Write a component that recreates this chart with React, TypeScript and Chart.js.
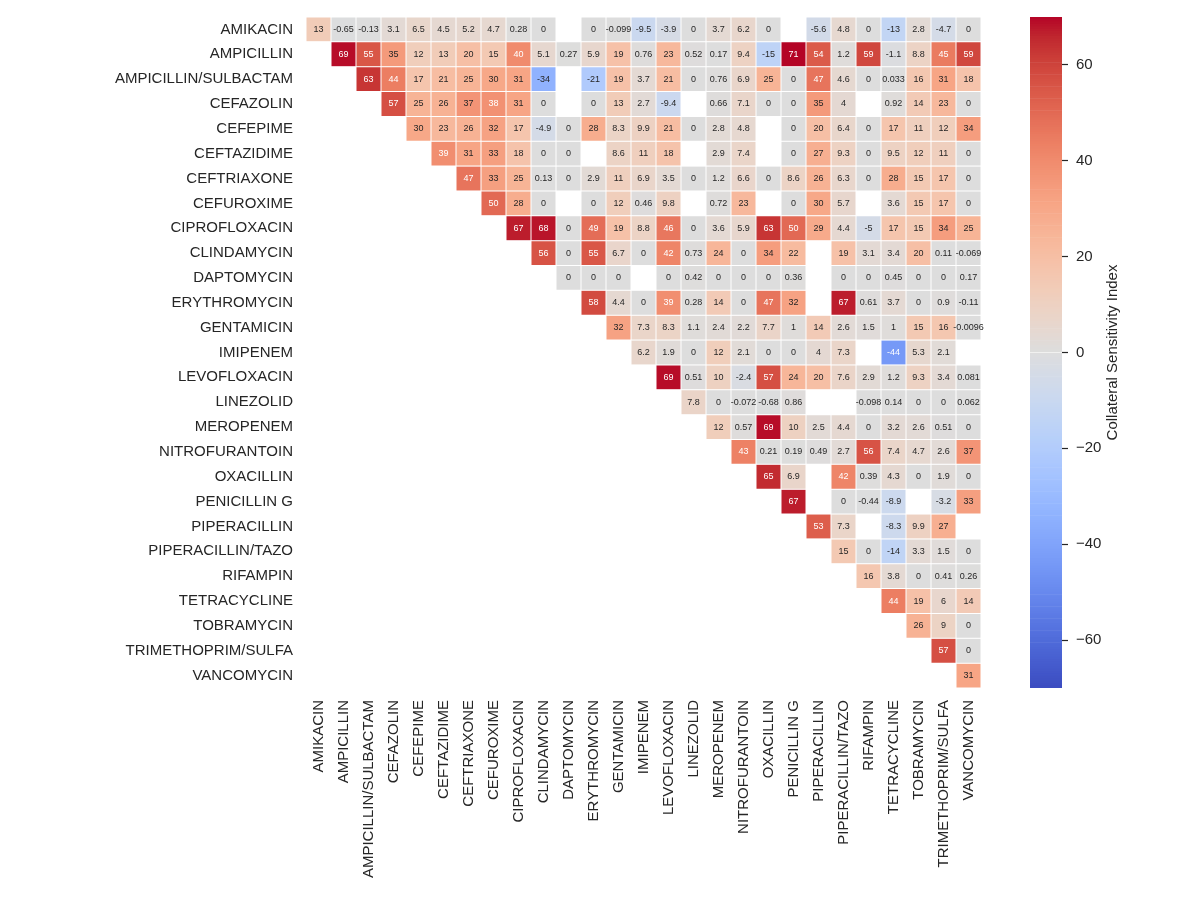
import React, { useEffect, useRef } from "react";
import { Chart, registerables } from "chart.js";

Chart.register(...registerables);

const antibiotics = [
  "AMIKACIN", "AMPICILLIN", "AMPICILLIN/SULBACTAM", "CEFAZOLIN", "CEFEPIME", "CEFTAZIDIME",
  "CEFTRIAXONE", "CEFUROXIME", "CIPROFLOXACIN", "CLINDAMYCIN", "DAPTOMYCIN", "ERYTHROMYCIN",
  "GENTAMICIN", "IMIPENEM", "LEVOFLOXACIN", "LINEZOLID", "MEROPENEM", "NITROFURANTOIN",
  "OXACILLIN", "PENICILLIN G", "PIPERACILLIN", "PIPERACILLIN/TAZO", "RIFAMPIN", "TETRACYCLINE",
  "TOBRAMYCIN", "TRIMETHOPRIM/SULFA", "VANCOMYCIN",
];

// Each row starts at the diagonal (upper triangle); null = masked cell
const rowAmikacin = [13, -0.65, -0.13, 3.1, 6.5, 4.5, 5.2, 4.7, 0.28, 0, null, 0, -0.099, -9.5, -3.9, 0, 3.7, 6.2, 0, null, -5.6, 4.8, 0, -13, 2.8, -4.7, 0];
const rowAmpicillin = [69, 55, 35, 12, 13, 20, 15, 40, 5.1, 0.27, 5.9, 19, 0.76, 23, 0.52, 0.17, 9.4, -15, 71, 54, 1.2, 59, -1.1, 8.8, 45, 59];
const rowAmpSulbactam = [63, 44, 17, 21, 25, 30, 31, -34, null, -21, 19, 3.7, 21, 0, 0.76, 6.9, 25, 0, 47, 4.6, 0, 0.033, 16, 31, 18];
const rowCefazolin = [57, 25, 26, 37, 38, 31, 0, null, 0, 13, 2.7, -9.4, null, 0.66, 7.1, 0, 0, 35, 4, null, 0.92, 14, 23, 0];
const rowCefepime = [30, 23, 26, 32, 17, -4.9, 0, 28, 8.3, 9.9, 21, 0, 2.8, 4.8, null, 0, 20, 6.4, 0, 17, 11, 12, 34];
const rowCeftazidime = [39, 31, 33, 18, 0, 0, null, 8.6, 11, 18, null, 2.9, 7.4, null, 0, 27, 9.3, 0, 9.5, 12, 11, 0];
const rowCeftriaxone = [47, 33, 25, 0.13, 0, 2.9, 11, 6.9, 3.5, 0, 1.2, 6.6, 0, 8.6, 26, 6.3, 0, 28, 15, 17, 0];
const rowCefuroxime = [50, 28, 0, null, 0, 12, 0.46, 9.8, null, 0.72, 23, null, 0, 30, 5.7, null, 3.6, 15, 17, 0];
const rowCiprofloxacin = [67, 68, 0, 49, 19, 8.8, 46, 0, 3.6, 5.9, 63, 50, 29, 4.4, -5, 17, 15, 34, 25];
const rowClindamycin = [56, 0, 55, 6.7, 0, 42, 0.73, 24, 0, 34, 22, null, 19, 3.1, 3.4, 20, 0.11, -0.069];
const rowDaptomycin = [0, 0, 0, null, 0, 0.42, 0, 0, 0, 0.36, null, 0, 0, 0.45, 0, 0, 0.17];
const rowErythromycin = [58, 4.4, 0, 39, 0.28, 14, 0, 47, 32, null, 67, 0.61, 3.7, 0, 0.9, -0.11];
const rowGentamicin = [32, 7.3, 8.3, 1.1, 2.4, 2.2, 7.7, 1, 14, 2.6, 1.5, 1, 15, 16, -0.0096];
const rowImipenem = [6.2, 1.9, 0, 12, 2.1, 0, 0, 4, 7.3, null, -44, 5.3, 2.1, null];
const rowLevofloxacin = [69, 0.51, 10, -2.4, 57, 24, 20, 7.6, 2.9, 1.2, 9.3, 3.4, 0.081];
const rowLinezolid = [7.8, 0, -0.072, -0.68, 0.86, null, null, -0.098, 0.14, 0, 0, 0.062];
const rowMeropenem = [12, 0.57, 69, 10, 2.5, 4.4, 0, 3.2, 2.6, 0.51, 0];
const rowNitrofurantoin = [43, 0.21, 0.19, 0.49, 2.7, 56, 7.4, 4.7, 2.6, 37];
const rowOxacillin = [65, 6.9, null, 42, 0.39, 4.3, 0, 1.9, 0];
const rowPenicillinG = [67, null, 0, -0.44, -8.9, null, -3.2, 33];
const rowPiperacillin = [53, 7.3, null, -8.3, 9.9, 27, null];
const rowPipTazo = [15, 0, -14, 3.3, 1.5, 0];
const rowRifampin = [16, 3.8, 0, 0.41, 0.26];
const rowTetracycline = [44, 19, 6, 14];
const rowTobramycin = [26, 9, 0];
const rowTmpSulfa = [57, 0];
const rowVancomycin = [31];

const rows: (number | null)[][] = [
  rowAmikacin, rowAmpicillin, rowAmpSulbactam, rowCefazolin, rowCefepime, rowCeftazidime,
  rowCeftriaxone, rowCefuroxime, rowCiprofloxacin, rowClindamycin, rowDaptomycin, rowErythromycin,
  rowGentamicin, rowImipenem, rowLevofloxacin, rowLinezolid, rowMeropenem, rowNitrofurantoin,
  rowOxacillin, rowPenicillinG, rowPiperacillin, rowPipTazo, rowRifampin, rowTetracycline,
  rowTobramycin, rowTmpSulfa, rowVancomycin,
];

const colorbarTicks = [-60, -40, -20, 0, 20, 40, 60];
const colorbarTitle = "Collateral Sensitivity Index";
const vmin = -70;
const vmax = 70;

const N = antibiotics.length;
const valueAt = (r: number, c: number): number | null =>
  c >= r ? (rows[r][c - r] ?? null) : null;

// matplotlib coolwarm, 33 control points
const coolwarm = [
  [59, 76, 192], [68, 90, 204], [77, 104, 215], [87, 117, 225], [98, 130, 234], [108, 142, 241],
  [119, 154, 247], [130, 165, 251], [141, 176, 254], [152, 185, 255], [163, 194, 255], [174, 201, 253],
  [184, 208, 249], [194, 213, 244], [204, 217, 238], [213, 219, 230], [221, 221, 221], [229, 216, 209],
  [236, 211, 197], [241, 204, 184], [245, 196, 172], [247, 187, 159], [247, 177, 147], [247, 166, 134],
  [244, 154, 123], [241, 141, 111], [236, 127, 99], [229, 112, 89], [222, 96, 77], [213, 80, 67],
  [203, 62, 56], [192, 40, 47], [180, 4, 38],
];

function rgbFor(v: number): number[] {
  let t = (v - vmin) / (vmax - vmin);
  t = Math.max(0, Math.min(1, t));
  const p = t * (coolwarm.length - 1);
  const i = Math.min(coolwarm.length - 2, Math.floor(p));
  const f = p - i;
  const a = coolwarm[i];
  const b = coolwarm[i + 1];
  return [0, 1, 2].map((k) => Math.round(a[k] + (b[k] - a[k]) * f));
}
const cssFor = (v: number) => {
  const [r, g, b] = rgbFor(v);
  return `rgb(${r},${g},${b})`;
};
function textColorFor(v: number): string {
  const lin = rgbFor(v).map((c) => {
    const s = c / 255;
    return s <= 0.03928 ? s / 12.92 : Math.pow((s + 0.055) / 1.055, 2.4);
  });
  const lum = 0.2126 * lin[0] + 0.7152 * lin[1] + 0.0722 * lin[2];
  return lum > 0.408 ? "#262626" : "#ffffff";
}
const fmt2g = (v: number) => (v === 0 ? "0" : String(Number(v.toPrecision(2))));

const FONT = '"Liberation Sans", Arial, sans-serif';
const INK = "#262626";

const annotPlugin = {
  id: "annot",
  afterDatasetsDraw(chart: any) {
    const ctx = chart.ctx;
    ctx.save();
    ctx.font = `9px ${FONT}`;
    ctx.textAlign = "center";
    ctx.textBaseline = "middle";
    chart.data.datasets.forEach((_ds: any, c: number) => {
      const meta = chart.getDatasetMeta(c);
      meta.data.forEach((el: any, r: number) => {
        const v = valueAt(r, c);
        if (v === null) return;
        const p = el.getProps(["x", "base", "y"], true);
        ctx.fillStyle = textColorFor(v);
        ctx.fillText(fmt2g(v), (p.x + p.base) / 2, p.y);
      });
    });
    ctx.restore();
  },
};

const cbTitlePlugin = {
  id: "cbTitle",
  afterDraw(chart: any) {
    const { ctx, chartArea } = chart;
    ctx.save();
    ctx.font = `15px ${FONT}`;
    ctx.fillStyle = INK;
    ctx.textAlign = "center";
    ctx.textBaseline = "middle";
    ctx.translate(chartArea.right + 51, (chartArea.top + chartArea.bottom) / 2);
    ctx.rotate(-Math.PI / 2);
    ctx.fillText(colorbarTitle, 0, 0);
    ctx.restore();
  },
};

export default function App() {
  const mainRef = useRef<HTMLCanvasElement>(null);
  const cbRef = useRef<HTMLCanvasElement>(null);

  useEffect(() => {
    Chart.defaults.font.family = FONT;
    Chart.defaults.color = INK;

    const datasets = antibiotics.map((name, c) => ({
      label: name,
      data: antibiotics.map((_, r) => (valueAt(r, c) === null ? null : [c - 0.5, c + 0.5])),
      backgroundColor: (ctx: any) => {
        const v = valueAt(ctx.dataIndex, c);
        return v === null ? "rgba(0,0,0,0)" : cssFor(v);
      },
      borderColor: "#ffffff",
      borderWidth: 0.5,
      borderSkipped: false,
      inflateAmount: 0,
      barPercentage: 1,
      categoryPercentage: 1,
      grouped: false,
    }));

    const main = new Chart(mainRef.current as HTMLCanvasElement, {
      type: "bar",
      data: { labels: antibiotics, datasets: datasets as any },
      options: {
        responsive: false,
        animation: false,
        indexAxis: "y",
        layout: { padding: { left: 0, top: 17, right: 219, bottom: 0 } },
        plugins: { legend: { display: false }, tooltip: { enabled: false } },
        scales: {
          x: {
            type: "linear",
            min: -0.5,
            max: N - 0.5,
            grid: { display: false, drawTicks: false },
            border: { display: false },
            afterBuildTicks: (scale: any) => {
              scale.ticks = antibiotics.map((_, i) => ({ value: i }));
            },
            afterFit: (scale: any) => {
              scale.height = 212;
              scale.paddingLeft = 0;
              scale.paddingRight = 0;
            },
            ticks: {
              autoSkip: false,
              minRotation: 90,
              maxRotation: 90,
              padding: 12,
              font: { size: 15, family: FONT },
              color: INK,
              callback: (v: any) => antibiotics[Math.round(Number(v))] ?? "",
            },
          },
          y: {
            type: "category",
            offset: true,
            grid: { display: false, drawTicks: false },
            border: { display: false },
            afterFit: (scale: any) => {
              scale.width = 306;
              scale.paddingTop = 0;
              scale.paddingBottom = 0;
            },
            ticks: {
              autoSkip: false,
              padding: 13,
              font: { size: 15, family: FONT },
              color: INK,
            },
          },
        },
      },
      plugins: [annotPlugin],
    });

    const step = 0.5;
    const cbDatasets: any[] = [];
    for (let lo = vmin; lo < vmax - 1e-9; lo += step) {
      const mid = lo + step / 2;
      cbDatasets.push({
        data: [[lo, lo + step]],
        backgroundColor: cssFor(mid),
        borderWidth: 0,
        barPercentage: 1,
        categoryPercentage: 1,
        grouped: false,
      });
    }

    const cb = new Chart(cbRef.current as HTMLCanvasElement, {
      type: "bar",
      data: { labels: [""], datasets: cbDatasets },
      options: {
        responsive: false,
        animation: false,
        layout: { padding: { left: 30, top: 17, right: 0, bottom: 212 } },
        plugins: { legend: { display: false }, tooltip: { enabled: false } },
        scales: {
          x: { display: false, offset: true },
          y: {
            type: "linear",
            position: "right",
            min: vmin,
            max: vmax,
            border: { display: false },
            grid: {
              drawOnChartArea: false,
              drawTicks: true,
              tickLength: 6,
              tickColor: INK,
              tickWidth: 1.2,
            },
            afterBuildTicks: (scale: any) => {
              scale.ticks = colorbarTicks.map((v) => ({ value: v }));
            },
            afterFit: (scale: any) => {
              scale.width = 138;
              scale.paddingTop = 0;
              scale.paddingBottom = 0;
            },
            ticks: {
              padding: 8,
              font: { size: 15, family: FONT },
              color: INK,
              callback: (v: any) => (Number(v) < 0 ? "\u2212" + Math.abs(Number(v)) : String(v)),
            },
          },
        },
      },
      plugins: [cbTitlePlugin],
    });

    return () => {
      main.destroy();
      cb.destroy();
    };
  }, []);

  return (
    <div style={{ position: "fixed", left: 0, top: 0, width: 1200, height: 900, background: "#fff" }}>
      <canvas ref={mainRef} width={1200} height={900} style={{ position: "absolute", left: 0, top: 0 }} />
      <canvas ref={cbRef} width={200} height={900} style={{ position: "absolute", left: 1000, top: 0 }} />
    </div>
  );
}
